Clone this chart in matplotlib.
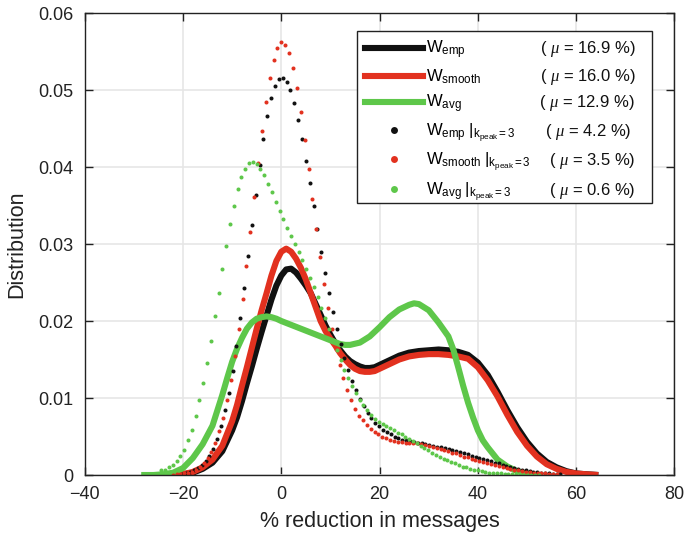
import numpy as np
import matplotlib
matplotlib.use('Agg')
import matplotlib.pyplot as plt
from matplotlib.lines import Line2D
from matplotlib.patches import Rectangle

plt.rcParams['font.family'] = ['Liberation Sans', 'DejaVu Sans']
plt.rcParams['mathtext.fontset'] = 'custom'
plt.rcParams['mathtext.rm'] = 'Liberation Sans'
plt.rcParams['mathtext.it'] = 'Liberation Serif:italic'

# ---- data ----
# smooth density curves
emp_x = [-22.7, -22, -20, -18, -16, -14, -12, -10, -9, -8, -7, -6, -5, -4, -3, -2, -1, 0, 1, 2, 3, 4, 5, 6, 7, 8, 9, 10,
         11, 12, 13, 14, 15, 16, 17, 18, 19, 20, 22, 24, 26, 28, 30, 32, 34, 36, 38, 40, 42, 44, 46, 48, 50, 52, 54,
         56, 58, 60, 62, 64.5]
emp_y = [0, 0.0000, 0.0001, 0.0003, 0.0008, 0.0016, 0.0031, 0.0058, 0.0075, 0.0096, 0.0119, 0.0141, 0.0164, 0.0186,
         0.0207, 0.0228, 0.0246, 0.0259, 0.0267, 0.0268, 0.0263, 0.0255, 0.0246, 0.0236, 0.0222, 0.0208, 0.0194,
         0.0182, 0.0171, 0.0162, 0.0154, 0.0148, 0.0144, 0.0141, 0.0139, 0.0139, 0.0140, 0.0143, 0.0149, 0.0155,
         0.0159, 0.0161, 0.0162, 0.0163, 0.0162, 0.0160, 0.0156, 0.0146, 0.0130, 0.0108, 0.0084, 0.0062, 0.0043,
         0.0028, 0.0017, 0.0010, 0.0005, 0.0002, 0.0001, 0.0000]

smooth_x = [-22.7, -22, -20, -18, -16, -14, -12, -10, -9, -8, -7, -6, -5, -4, -3, -2, -1, 0, 1, 2, 3, 4, 5, 6, 7, 8, 9,
            10, 11, 12, 13, 14, 15, 16, 17, 18, 19, 20, 22, 24, 26, 28, 30, 32, 34, 36, 38, 40, 42, 44, 46, 48, 50,
            52, 54, 56, 58, 60, 62, 64.5]
smooth_y = [0, 0.0000, 0.0001, 0.0004, 0.0010, 0.0020, 0.0038, 0.0070, 0.0091, 0.0116, 0.0140, 0.0165, 0.0190,
            0.0214, 0.0236, 0.0259, 0.0278, 0.0290, 0.0294, 0.0290, 0.0281, 0.0269, 0.0254, 0.0236, 0.0218, 0.0200,
            0.0187, 0.0177, 0.0168, 0.0158, 0.0150, 0.0143, 0.0138, 0.0135, 0.0134, 0.0134, 0.0135, 0.0138, 0.0144,
            0.0150, 0.0154, 0.0156, 0.0157, 0.0157, 0.0156, 0.0154, 0.0151, 0.0140, 0.0123, 0.0102, 0.0078, 0.0056,
            0.0038, 0.0024, 0.0014, 0.0008, 0.0004, 0.0002, 0.0001, 0.0000]

avg_x = [-28.5, -26, -24, -22, -20, -18, -16, -14, -12, -11, -10, -9, -8, -7, -6, -5, -4, -3, -2, -1, 0, 2, 4, 6, 8,
         10, 12, 13, 14, 16, 18, 20, 22, 24, 26, 27, 28, 30, 32, 34, 35, 36, 37, 38, 39, 40, 41, 42, 43, 44, 46, 48,
         50, 52, 53]
avg_y = [0, 0.0000, 0.0001, 0.0003, 0.0009, 0.0022, 0.0040, 0.0064, 0.0104, 0.0126, 0.0147, 0.0164, 0.0178, 0.0190,
         0.0198, 0.0203, 0.0205, 0.0206, 0.0205, 0.0203, 0.0200, 0.0195, 0.0190, 0.0185, 0.0180, 0.0175, 0.0170,
         0.0169, 0.0169, 0.0172, 0.0180, 0.0192, 0.0205, 0.0215, 0.0221, 0.0223, 0.0222, 0.0214, 0.0198, 0.0180,
         0.0163, 0.0140, 0.0116, 0.0094, 0.0075, 0.0058, 0.0045, 0.0036, 0.0028, 0.0020, 0.0011, 0.0005, 0.0002,
         0.0000, 0.0000]

# k_peak = 3 densities (100 evaluation points each)
emp_k3_range = (-20.9, 56.8)
emp_k3_y = [0.0000, 0.0001, 0.0002, 0.0004, 0.0006, 0.0009, 0.0013, 0.0018, 0.0025, 0.0034,
            0.0047, 0.0064, 0.0084, 0.0107, 0.0135, 0.0168, 0.0204, 0.0243, 0.0284, 0.0325,
            0.0364, 0.0402, 0.0437, 0.0466, 0.0489, 0.0505, 0.0514, 0.0516, 0.0511, 0.0500,
            0.0483, 0.0461, 0.0436, 0.0408, 0.0379, 0.0349, 0.0319, 0.0290, 0.0263, 0.0236,
            0.0212, 0.0190, 0.0170, 0.0152, 0.0136, 0.0122, 0.0110, 0.0099, 0.0089, 0.0081,
            0.0074, 0.0068, 0.0064, 0.0059, 0.0056, 0.0053, 0.0050, 0.0048, 0.0046, 0.0045,
            0.0044, 0.0043, 0.0042, 0.0041, 0.0040, 0.0039, 0.0038, 0.0037, 0.0036, 0.0035,
            0.0034, 0.0033, 0.0031, 0.0030, 0.0028, 0.0027, 0.0025, 0.0024, 0.0022, 0.0021,
            0.0019, 0.0018, 0.0016, 0.0015, 0.0013, 0.0012, 0.0010, 0.0009, 0.0008, 0.0007,
            0.0006, 0.0005, 0.0004, 0.0004, 0.0003, 0.0002, 0.0002, 0.0001, 0.0001, 0.0001]

smooth_k3_range = (-22.1, 56.1)
smooth_k3_y = [0.0000, 0.0001, 0.0001, 0.0002, 0.0003, 0.0004, 0.0007, 0.0010, 0.0015, 0.0022,
               0.0030, 0.0042, 0.0057, 0.0074, 0.0097, 0.0123, 0.0155, 0.0189, 0.0229, 0.0271,
               0.0316, 0.0361, 0.0405, 0.0447, 0.0484, 0.0516, 0.0539, 0.0555, 0.0562, 0.0559,
               0.0548, 0.0529, 0.0503, 0.0471, 0.0435, 0.0397, 0.0358, 0.0320, 0.0283, 0.0248,
               0.0217, 0.0189, 0.0164, 0.0143, 0.0126, 0.0110, 0.0097, 0.0086, 0.0077, 0.0071,
               0.0065, 0.0060, 0.0056, 0.0053, 0.0050, 0.0048, 0.0046, 0.0044, 0.0043, 0.0043,
               0.0042, 0.0042, 0.0042, 0.0041, 0.0040, 0.0039, 0.0038, 0.0036, 0.0035, 0.0034,
               0.0032, 0.0031, 0.0029, 0.0028, 0.0026, 0.0024, 0.0023, 0.0021, 0.0020, 0.0018,
               0.0017, 0.0015, 0.0014, 0.0013, 0.0012, 0.0010, 0.0009, 0.0008, 0.0007, 0.0006,
               0.0005, 0.0004, 0.0004, 0.0003, 0.0002, 0.0002, 0.0002, 0.0001, 0.0001, 0.0001]

avg_k3_range = (-24.4, 52.4)
avg_k3_y = [0.0006, 0.0007, 0.0011, 0.0013, 0.0018, 0.0025, 0.0032, 0.0045, 0.0058, 0.0077,
            0.0097, 0.0120, 0.0146, 0.0174, 0.0206, 0.0237, 0.0268, 0.0298, 0.0326, 0.0350,
            0.0371, 0.0387, 0.0398, 0.0405, 0.0406, 0.0404, 0.0397, 0.0389, 0.0378, 0.0367,
            0.0355, 0.0343, 0.0332, 0.0321, 0.0310, 0.0300, 0.0289, 0.0279, 0.0268, 0.0256,
            0.0244, 0.0231, 0.0217, 0.0204, 0.0189, 0.0175, 0.0162, 0.0149, 0.0137, 0.0126,
            0.0116, 0.0106, 0.0098, 0.0091, 0.0084, 0.0078, 0.0073, 0.0069, 0.0066, 0.0064,
            0.0061, 0.0058, 0.0055, 0.0053, 0.0050, 0.0047, 0.0044, 0.0041, 0.0038, 0.0035,
            0.0032, 0.0029, 0.0026, 0.0023, 0.0021, 0.0019, 0.0017, 0.0015, 0.0013, 0.0011,
            0.0010, 0.0008, 0.0007, 0.0006, 0.0005, 0.0004, 0.0003, 0.0003, 0.0002, 0.0002,
            0.0001, 0.0001, 0.0001, 0.0001, 0.0000, 0.0000, 0.0000, 0.0000, 0.0000, 0.0000]

labels = [r'$\mathrm{W}_{\mathrm{emp}}$', r'$\mathrm{W}_{\mathrm{smooth}}$', r'$\mathrm{W}_{\mathrm{avg}}$',
          r'$\mathrm{W}_{\mathrm{emp}}\ |_{\mathrm{k}_{\mathrm{peak}}\mathrm{=3}}$',
          r'$\mathrm{W}_{\mathrm{smooth}}\ |_{\mathrm{k}_{\mathrm{peak}}\mathrm{=3}}$',
          r'$\mathrm{W}_{\mathrm{avg}}\ |_{\mathrm{k}_{\mathrm{peak}}\mathrm{=3}}$']
mu_values = ['16.9', '16.0', '12.9', '4.2', '3.5', '0.6']
mu_xpos = [0.772, 0.772, 0.770, 0.780, 0.787, 0.787]

xticks = [-40, -20, 0, 20, 40, 60, 80]
yticks = [0, 0.01, 0.02, 0.03, 0.04, 0.05, 0.06]
ytick_labels = ['0', '0.01', '0.02', '0.03', '0.04', '0.05', '0.06']

c_black = '#111111'
c_red = '#e2311f'
c_green = '#5ec74a'

fig = plt.figure(figsize=(6.84, 5.43), dpi=100)
ax = fig.add_axes([0.1238, 0.1252, 0.8623, 0.8508])

# thick lines
ax.plot(emp_x, emp_y, color=c_black, lw=4.4, solid_capstyle='butt')
ax.plot(smooth_x, smooth_y, color=c_red, lw=4.4, solid_capstyle='butt')
ax.plot(avg_x, avg_y, color=c_green, lw=4.4, solid_capstyle='butt')

# dotted k_peak=3 curves
for rng, ys, col in [(emp_k3_range, emp_k3_y, c_black), (smooth_k3_range, smooth_k3_y, c_red),
                     (avg_k3_range, avg_k3_y, c_green)]:
    xs = np.linspace(rng[0], rng[1], len(ys))
    ax.plot(xs, ys, linestyle='none', marker='o', ms=2.9, mew=0, color=col)

ax.set_xlim(-40, 80)
ax.set_ylim(0, 0.06)
ax.set_xticks(xticks)
ax.set_yticks(yticks)
ax.set_yticklabels(ytick_labels)
ax.tick_params(direction='in', length=6, width=1, top=True, right=True, labelsize=13, pad=8, colors='#222222')
ax.grid(True, color='#e6e6e6', lw=1.2)
ax.set_axisbelow(True)
for sp in ax.spines.values():
    sp.set_linewidth(1.0)
    sp.set_color('#222222')
ax.set_xlabel('% reduction in messages', fontsize=15.5, color='#222222', labelpad=6)
ax.set_ylabel('Distribution', fontsize=15.5, color='#222222', labelpad=8)

# legend
handles = [Line2D([], [], color=c_black, lw=4.4),
           Line2D([], [], color=c_red, lw=4.4),
           Line2D([], [], color=c_green, lw=4.4),
           Line2D([], [], ls='none', marker='o', ms=5, mew=0, color=c_black),
           Line2D([], [], ls='none', marker='o', ms=5, mew=0, color=c_red),
           Line2D([], [], ls='none', marker='o', ms=5, mew=0, color=c_green)]
leg = ax.legend(handles, labels, loc='upper left', bbox_to_anchor=(0.4752, 0.945), frameon=False,
                borderaxespad=0, borderpad=0, handlelength=3.5, handletextpad=0.15, labelspacing=0.4,
                fontsize=12, numpoints=1)
ax.add_patch(Rectangle((0.4617, 0.5894), 0.962 - 0.4617, 0.9617 - 0.5894, transform=ax.transAxes,
                       facecolor='white', edgecolor='#222222', lw=1.0, zorder=4.5))
leg.set_zorder(5)

fig.canvas.draw()
renderer = fig.canvas.get_renderer()
inv = ax.transAxes.inverted()
for t, mu, xp in zip(leg.get_texts(), mu_values, mu_xpos):
    bb = t.get_window_extent(renderer)
    _, _, descent = renderer.get_text_width_height_descent(t.get_text(), t.get_fontproperties(), ismath=True)
    yb = inv.transform((0, bb.y0 + descent))[1]
    ax.text(xp, yb, r'( $\mu$ = ' + mu + ' %)', transform=ax.transAxes, fontsize=12, va='baseline',
            ha='left', color='#111111', zorder=6)

fig.savefig('out.png', dpi=100)
